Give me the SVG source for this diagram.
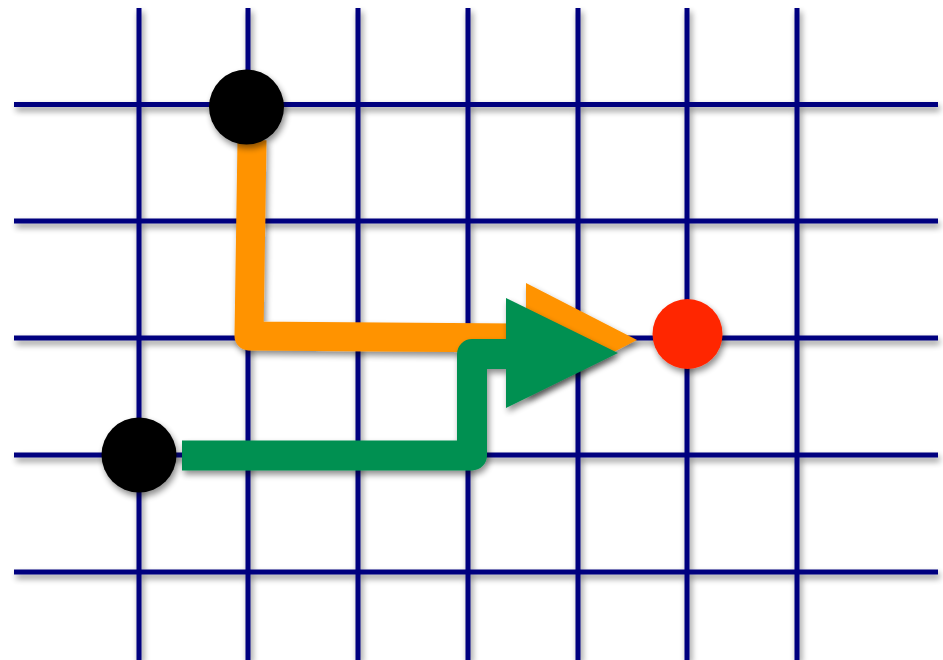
<svg xmlns="http://www.w3.org/2000/svg" width="943" height="660" viewBox="0 0 943 660">
<defs>
<filter id="sh" x="-20%" y="-20%" width="140%" height="140%">
<feGaussianBlur in="SourceAlpha" stdDeviation="3"/>
<feOffset dx="2" dy="4" result="b"/>
<feComponentTransfer><feFuncA type="linear" slope="0.45"/></feComponentTransfer>
<feMerge><feMergeNode/><feMergeNode in="SourceGraphic"/></feMerge>
</filter>
<filter id="shl" filterUnits="userSpaceOnUse" x="0" y="0" width="943" height="660">
<feGaussianBlur in="SourceAlpha" stdDeviation="3"/>
<feOffset dx="2" dy="4" result="b"/>
<feComponentTransfer><feFuncA type="linear" slope="0.45"/></feComponentTransfer>
<feMerge><feMergeNode/><feMergeNode in="SourceGraphic"/></feMerge>
</filter>
</defs>
<style>
.g{stroke:#00007f;stroke-width:5;fill:none}
.blk{fill:#000}
.red{fill:#ff2600}
.or{stroke:#ff9300;stroke-width:29;fill:none;stroke-linejoin:round}
.gr{stroke:#009051;stroke-width:30;fill:none;stroke-linejoin:round}
</style>
<rect width="943" height="660" fill="#fff"/>
<g id="grid" filter="url(#shl)">
<path class="g" d="M139 8V660M248 8V660M358 8V660M468 8V660M578 8V660M687 8V660M797 8V660"/>
<path class="g" d="M14 104.5H938M14 221H938M14 338H938M14 455H938M14 572H938"/>
</g>
<g id="connectors">
<g id="orange" filter="url(#sh)">
<path class="or" d="M252 140 L249 336 L525 338"/>
<polygon fill="#ff9300" points="526,283 637,340 526,397"/>
</g>
<g id="green" filter="url(#sh)">
<path class="gr" d="M182 455.5 H472 V354 H512"/>
<polygon fill="#009051" points="506,298 618,353 506,408"/>
</g>
</g>
<g id="nodeA" filter="url(#sh)"><circle class="blk" cx="246.5" cy="107" r="37.5"/></g>
<g id="nodeB" filter="url(#sh)"><circle class="blk" cx="139" cy="455" r="37.5"/></g>
<g id="target" filter="url(#sh)"><circle class="red" cx="687.5" cy="334" r="35"/></g>
</svg>
